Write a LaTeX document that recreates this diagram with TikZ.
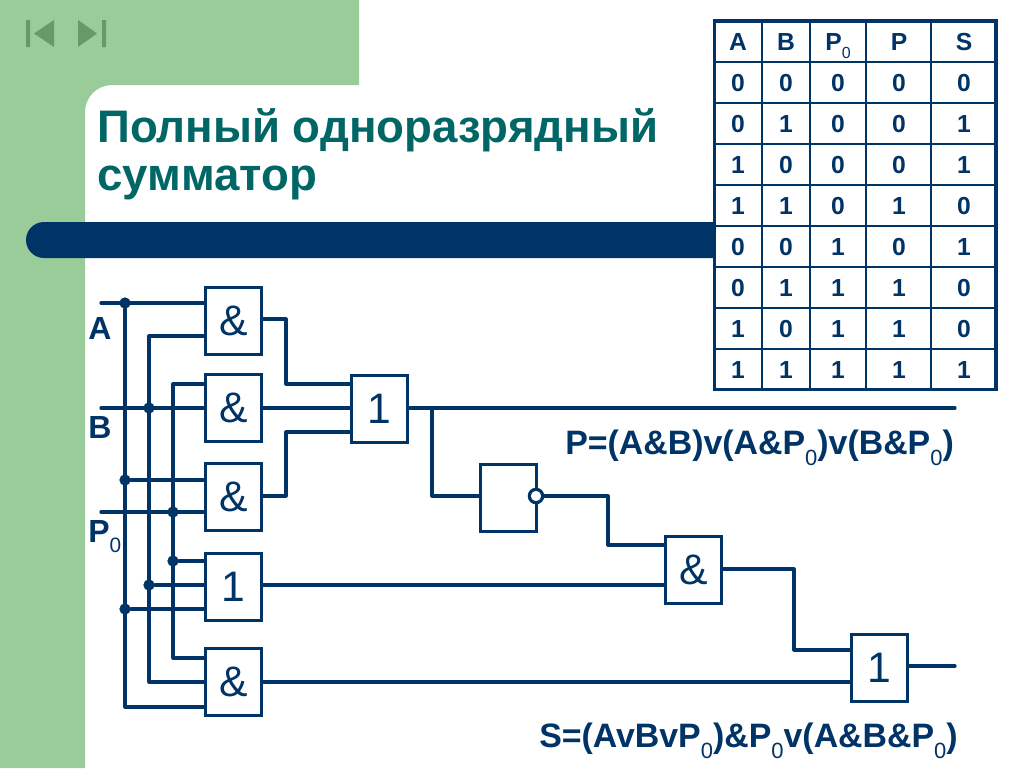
\documentclass[tikz,border=0pt]{standalone}
\usepackage{fontspec}
\usepackage{xcolor}
\setmainfont{Liberation Sans}
\definecolor{wirecol}{HTML}{003366}
\definecolor{slidegreen}{HTML}{99CC99}
\definecolor{navgreen}{HTML}{669966}
\definecolor{titlecol}{HTML}{006666}
\makeatletter
\newcommand{\lowzero}{\raisebox{-0.33em}{\mdseries\fontsize{0.65\dimexpr\f@size pt\relax}{1em}\selectfont 0}}
\makeatother

\begin{document}
\begin{tikzpicture}[x=0.75pt,y=-0.75pt,
 wire/.style={draw=wirecol,line width=2.4pt,line cap=round,line join=round},
 gate/.style={draw=wirecol,line width=2.6pt,fill=white,minimum width=42pt,minimum height=50pt,inner sep=0pt,text=wirecol,font=\fontsize{32}{36}\selectfont},
 dot/.style={circle,fill=wirecol,inner sep=0pt,minimum size=8.5pt},
 invdot/.style={circle,draw=wirecol,line width=2.4pt,fill=white,inner sep=0pt,minimum size=10pt},
 lbl/.style={anchor=base west,inner sep=0pt,text=wirecol,font=\bfseries\fontsize{24}{28}\selectfont},
 formula/.style={anchor=base west,inner sep=0pt,text=wirecol,font=\bfseries\fontsize{25.4}{28}\selectfont},
 cell/.style={anchor=base,inner sep=0pt,text=wirecol,font=\bfseries\fontsize{18.5}{22}\selectfont}]
 \useasboundingbox (0,0) rectangle (1024,768);
 \fill[white] (0,0) rectangle (1024,768);

 \fill[slidegreen] (0,0) -- (359,0) -- (359,85) -- (112,85) arc[start angle=90,end angle=180,x radius=27,y radius=-27] -- (85,768) -- (0,768) -- cycle;
 \fill[wirecol] (713,222) -- (44,222) arc[start angle=90,end angle=270,x radius=18,y radius=-18] -- (713,258) -- cycle;

 \fill[navgreen] (26,20) rectangle (30,47) (34,33.5) -- (54,20) -- (54,47) -- cycle;
 \fill[navgreen] (102,20) rectangle (106,47) (97,33.5) -- (78,20) -- (78,47) -- cycle;

 \node[anchor=north west,align=left,inner sep=0pt,text=titlecol,font=\bfseries\fontsize{34.2}{36.5}\selectfont] (title) at (97,108) {Полный одноразрядный\\сумматор};

 \node[gate] (and1) at (233.5,321) {\&};
 \node[gate] (and2) at (233.5,408) {\&};
 \node[gate] (and3) at (233.5,497) {\&};
 \node[gate] (or1) at (233.5,587) {1};
 \node[gate] (and4) at (233.5,682) {\&};
 \node[gate] (or2) at (379.5,409) {1};
 \node[gate] (inv) at (508.5,498) {};
 \node[gate] (and5) at (693.5,570) {\&};
 \node[gate] (or3) at (879.5,668) {1};

 \coordinate (inA) at (101,303);
 \coordinate (inB) at (101,408);
 \coordinate (inP) at (101,512);
 \coordinate (topB) at (149,336);
 \coordinate (topP) at (173,384);
 \coordinate (endA) at (125,707);
 \coordinate (endB) at (149,682);
 \coordinate (endP) at (173,658);
 \coordinate (outP) at (955,408);
 \coordinate (outS) at (955,666);
 \coordinate (bendA) at (286,319);
 \coordinate (bendC) at (286,496);

 \draw[wire] (inA) -- (and1.west |- inA);
 \draw[wire] (inB) -- (and2.west |- inB);
 \draw[wire] (inP) -- (and3.west |- inP);
 \node[dot] (dotA1) at (125,303) {};
 \draw[wire] (topB) -- (and1.west |- topB);
 \draw[wire] (topP) -- (and2.west |- topP);
 \node[dot] (dotB1) at (149,408) {};
 \node[dot] (dotA2) at (125,480) {};
 \node[dot] (dotP1) at (173,512) {};
 \node[dot] (dotP2) at (173,561) {};
 \node[dot] (dotB2) at (149,585) {};
 \node[dot] (dotA3) at (125,609) {};

 \draw[wire] (dotA1) -- (endA) -- (and4.west |- endA);
 \draw[wire] (topB) -- (endB) -- (and4.west |- endB);
 \draw[wire] (topP) -- (endP) -- (and4.west |- endP);
 \draw[wire] (dotA2) -- (and3.west |- dotA2);
 \draw[wire] (dotP2) -- (or1.west |- dotP2);
 \draw[wire] (dotB2) -- (or1.west |- dotB2);
 \draw[wire] (dotA3) -- (or1.west |- dotA3);

 \draw[wire] (and1.east |- bendA) -- (bendA) -- (bendA |- 0,384) -- (or2.west |- 0,384);
 \draw[wire] (and2) -- (or2.west |- and2);
 \draw[wire] (and3.east |- bendC) -- (bendC) -- (bendC |- 0,432) -- (or2.west |- 0,432);

 \node[invdot] (invout) at (536,496) {};
 \coordinate (branch) at (432,408);
 \draw[wire] (or2.east |- outP) -- (outP);
 \draw[wire] (branch) -- (branch |- invout) -- (inv.west |- invout);
 \draw[wire] (invout) -- (608,496) -- (608,545) -- (and5.west |- 0,545);
 \draw[wire] (or1.east |- dotB2) -- (and5.west |- dotB2);
 \draw[wire] (and5.east |- 0,569) -- (794,569) -- (794,650) -- (or3.west |- 0,650);
 \draw[wire] (and4) -- (or3.west |- and4);
 \draw[wire] (or3.east |- outS) -- (outS);

 \node[lbl] (labA) at (88,339) {A};
 \node[lbl] (labB) at (88,438) {B};
 \node[lbl] (labP) at (88,542) {P\lowzero};
 \node[formula] (eqP) at (565,454) {P=(A\&B)v(A\&P\lowzero)v(B\&P\lowzero)};
 \node[formula] (eqS) at (539,747) {S=(AvBvP\lowzero)\&P\lowzero v(A\&B\&P\lowzero)};

 \fill[white] (713,21) rectangle (997,390);
 \foreach \y in {62,103,144,185,226,267,308,349}
  \draw[wirecol,line width=1.5pt] (713,\y) -- (997,\y);
 \foreach \x in {762,810,866,931}
  \draw[wirecol,line width=1.5pt] (\x,21) -- (\x,390);
 \draw[wirecol,line width=2.7pt] (714.5,21) rectangle (996,389.5);

 \foreach \x/\t in {738/A,786/B,838/P\lowzero,899/P,964/S}
  \node[cell] at (\x,50) {\t};
 \foreach \y/\a/\b/\c/\p/\s in {91/0/0/0/0/0,132/0/1/0/0/1,173/1/0/0/0/1,214/1/1/0/1/0,255/0/0/1/0/1,296/0/1/1/1/0,337/1/0/1/1/0,378/1/1/1/1/1}
  \foreach \x/\v in {738/\a,786/\b,838/\c,899/\p,964/\s}
   \node[cell] at (\x,\y) {\v};
\end{tikzpicture}
\end{document}
